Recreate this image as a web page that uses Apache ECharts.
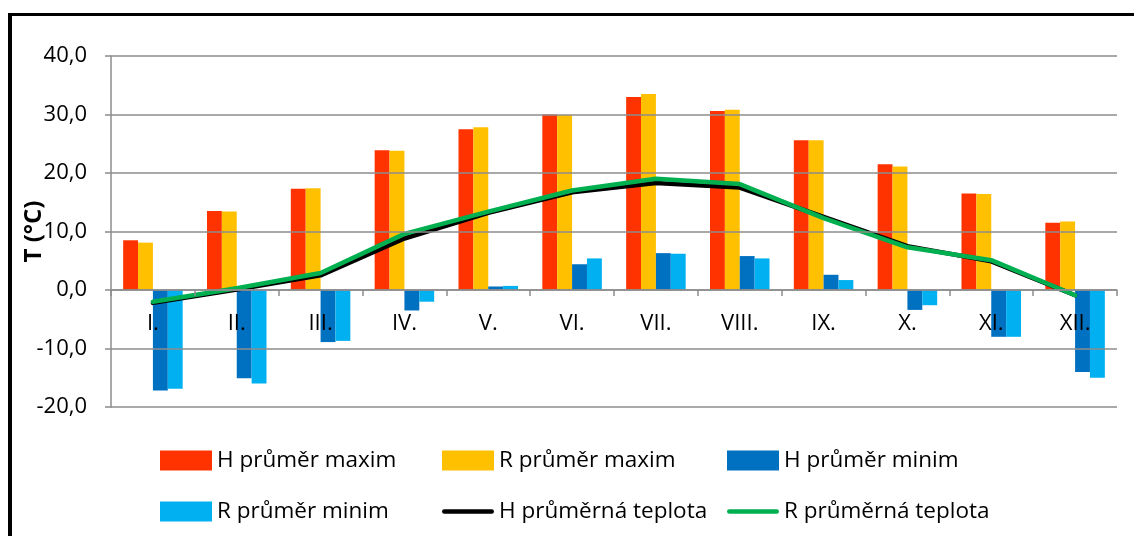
<!DOCTYPE html>
<html>
<head>
<meta charset="utf-8">
<script src="https://cdn.jsdelivr.net/npm/echarts@6/dist/echarts.min.js"></script>
<style>
html,body{margin:0;padding:0;background:#fff;}
#c{width:1134px;height:536px;}
</style>
</head>
<body>
<div id="c"></div>
<script>
const categories = ['I.', 'II.', 'III.', 'IV.', 'V.', 'VI.', 'VII.', 'VIII.', 'IX.', 'X.', 'XI.', 'XII.'];
const hMax = [8.5, 13.5, 17.3, 23.9, 27.5, 30.0, 33.0, 30.6, 25.6, 21.5, 16.5, 11.5];
const rMax = [8.1, 13.4, 17.4, 23.8, 27.8, 29.9, 33.5, 30.8, 25.6, 21.1, 16.4, 11.7];
const hMin = [-17.2, -15.1, -8.9, -3.5, 0.6, 4.4, 6.3, 5.8, 2.6, -3.4, -8.0, -14.0];
const rMin = [-16.9, -16.0, -8.7, -2.0, 0.7, 5.4, 6.2, 5.4, 1.7, -2.6, -8.0, -15.0];
const hAvg = [-2.2, 0.1, 2.5, 8.8, 13.2, 16.7, 18.3, 17.5, 12.5, 7.5, 4.9, -0.9];
const rAvg = [-2.0, 0.3, 2.9, 9.6, 13.4, 17.0, 19.0, 18.1, 12.3, 7.3, 5.1, -0.9];
const names = ['H průměr maxim', 'R průměr maxim', 'H průměr minim', 'R průměr minim', 'H průměrná teplota', 'R průměrná teplota'];

const FONT = 'Open Sans';
const LINE_ICON = 'path://M2.5,0 L52.5,0 A2.5,2.5 0 0 1 52.5,5 L2.5,5 A2.5,2.5 0 0 1 2.5,0 Z';
const chart = echarts.init(document.getElementById('c'), null, {renderer: 'canvas'});
const legendText = {fontFamily: FONT, fontSize: 22.5, color: '#000', lineHeight: 20};
function legend(left, data) {
  return {
    orient: 'vertical', left: left, top: 449, padding: 0, itemWidth: 52, itemHeight: 20, itemGap: 28,
    data: data, textStyle: legendText, selectedMode: false
  };
}
chart.setOption({
  animation: false,
  backgroundColor: '#fff',
  grid: {left: 111, right: 17, top: 56, bottom: 129, containLabel: false, outerBoundsMode: 'none'},
  graphic: [
    {type: 'rect', shape: {x: 9, y: 13, width: 1125, height: 3}, style: {fill: '#000'}},
    {type: 'rect', shape: {x: 8, y: 13, width: 4, height: 523}, style: {fill: '#000'}}
  ],
  legend: [
    legend(160, [{name: names[0], icon: 'rect'}, {name: names[3], icon: 'rect'}]),
    legend(442, [{name: names[1], icon: 'rect'}, {name: names[4], icon: LINE_ICON, itemStyle: {color: '#000'}}]),
    legend(727, [{name: names[2], icon: 'rect'}, {name: names[5], icon: LINE_ICON, itemStyle: {color: '#00B050'}}])
  ],
  xAxis: {
    type: 'category', data: categories, boundaryGap: true, position: 'bottom', offset: -117, z: 10,
    axisLine: {onZero: false, lineStyle: {color: '#8c8c8c', width: 1.5}},
    axisTick: {show: true, length: 6, lineStyle: {color: '#8c8c8c', width: 1.5}},
    axisLabel: {fontFamily: FONT, fontSize: 22, color: '#000', margin: 23}
  },
  yAxis: {
    type: 'value', min: -20, max: 40, interval: 10,
    name: 'T (°C)', nameLocation: 'middle', nameGap: 65, nameRotate: 90, nameMoveOverlap: false, z: 10,
    nameTextStyle: {fontFamily: FONT, fontSize: 24, fontWeight: 'bold', color: '#000'},
    axisLine: {show: true, lineStyle: {color: '#8c8c8c', width: 1.5}},
    axisTick: {show: true, length: 6, lineStyle: {color: '#8c8c8c', width: 1.5}},
    splitLine: {show: true, lineStyle: {color: '#8c8c8c', width: 1.5}},
    axisLabel: {fontFamily: FONT, fontSize: 22, color: '#000', margin: 24,
      formatter: v => v.toFixed(1).replace('.', ',')}
  },
  series: [
    {name: names[0], type: 'bar', data: hMax, barGap: '0%', barCategoryGap: '29%', itemStyle: {color: '#FF3300'}},
    {name: names[1], type: 'bar', data: rMax, barGap: '0%', barCategoryGap: '29%', itemStyle: {color: '#FFC000'}},
    {name: names[2], type: 'bar', data: hMin, barGap: '0%', barCategoryGap: '29%', itemStyle: {color: '#0070C0'}},
    {name: names[3], type: 'bar', data: rMin, barGap: '0%', barCategoryGap: '29%', itemStyle: {color: '#00B0F0'}},
    {name: names[4], type: 'line', data: hAvg, symbol: 'none', z: 5,
      lineStyle: {color: '#000', width: 4.5, cap: 'round', join: 'round'}, itemStyle: {color: '#000'}},
    {name: names[5], type: 'line', data: rAvg, symbol: 'none', z: 6,
      lineStyle: {color: '#00B050', width: 4.5, cap: 'round', join: 'round'}, itemStyle: {color: '#00B050'}}
  ]
});
</script>
</body>
</html>
